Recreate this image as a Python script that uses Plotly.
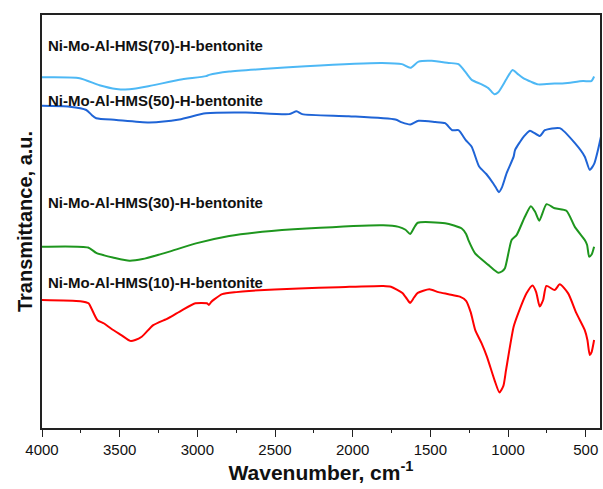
import plotly.graph_objects as go

# FTIR spectra of Ni-Mo-Al-HMS(x)-H-bentonite samples (stacked, transmittance in a.u.)
wn_10 = [4000, 3753, 3700, 3680, 3643, 3600, 3556, 3490, 3432, 3400, 3358, 3284, 3186, 3100,
         3012, 2938, 2926, 2911, 2889, 2840, 2750, 2667, 2346, 2089, 1803, 1754, 1680, 1650,
         1630, 1605, 1581, 1507, 1448, 1383, 1310, 1270, 1240, 1211, 1170, 1136, 1087, 1055,
         1030, 1013, 964, 934, 881, 842, 819, 796, 774, 753, 699, 667, 613, 560, 506, 489,
         474, 462, 446]
t_10 = [31.0, 30.7, 30.2, 28.8, 26.1, 25.3, 24.1, 22.5, 21.1, 21.3, 22.1, 24.9, 26.6, 28.5,
        30.2, 30.2, 29.8, 30.5, 31.2, 32.4, 32.9, 33.2, 33.8, 34.1, 34.4, 34.2, 32.7, 31.2,
        30.3, 31.6, 32.7, 33.6, 32.9, 32.4, 31.8, 30.8, 28.0, 23.7, 20.5, 17.3, 11.6, 8.6,
        10.2, 14.0, 24.5, 27.8, 32.6, 34.5, 32.9, 29.4, 31.0, 34.4, 33.4, 34.8, 32.6, 27.8,
        23.7, 21.3, 17.7, 18.4, 21.3]

wn_30 = [4000, 3703, 3651, 3600, 3544, 3437, 3352, 3235, 3180, 3009, 2795, 2582, 2297, 1803,
         1704, 1660, 1630, 1600, 1581, 1405, 1298, 1270, 1255, 1212, 1127, 1080, 1063, 1040,
         1020, 977, 945, 891, 853, 825, 799, 752, 699, 624, 570, 506, 491, 478, 462, 446]
t_30 = [43.9, 43.7, 42.4, 41.8, 41.3, 40.5, 40.9, 42.1, 42.7, 44.7, 46.5, 47.5, 48.3, 49.1,
        48.7, 48.0, 47.0, 48.8, 49.7, 49.6, 48.3, 47.0, 45.5, 42.3, 39.5, 38.0, 37.6, 37.9,
        38.7, 45.5, 46.7, 51.2, 53.7, 52.3, 50.2, 54.2, 53.2, 52.6, 48.7, 45.5, 44.3, 41.5,
        42.0, 43.9]

wn_50 = [4000, 3822, 3715, 3680, 3651, 3522, 3309, 3116, 2945, 2688, 2410, 2361, 2325, 2025,
         1725, 1683, 1629, 1576, 1469, 1405, 1359, 1319, 1272, 1234, 1186, 1140, 1095, 1075,
         1059, 1040, 1009, 964, 955, 900, 859, 795, 763, 667, 568, 506, 474, 445, 421, 402]
t_50 = [78.0, 77.8, 77.0, 75.8, 75.0, 74.6, 74.0, 74.7, 76.2, 76.4, 76.0, 76.7, 76.0, 75.5,
        74.7, 74.0, 73.5, 74.4, 74.1, 73.8, 72.1, 72.1, 69.7, 68.1, 63.3, 61.5, 59.2, 58.0,
        57.1, 58.2, 61.7, 65.7, 67.3, 70.5, 72.0, 70.7, 72.1, 72.6, 68.9, 65.7, 62.5, 64.0,
        67.3, 70.5]

wn_70 = [4000, 3758, 3630, 3522, 3437, 3309, 3116, 2945, 2924, 2795, 2582, 2303, 1812, 1683,
         1629, 1576, 1491, 1383, 1319, 1270, 1234, 1170, 1127, 1088, 1063, 1010, 971, 940,
         902, 850, 806, 700, 634, 517, 464, 446]
t_70 = [84.9, 84.7, 83.0, 82.1, 82.0, 82.8, 84.3, 85.2, 85.5, 86.3, 86.9, 87.6, 88.4, 88.1,
        87.2, 88.7, 88.9, 88.4, 88.1, 86.0, 84.3, 83.2, 82.3, 80.8, 81.3, 84.5, 86.7, 85.8,
        84.7, 83.8, 83.2, 83.4, 83.5, 84.0, 84.0, 85.1]

labels = ["Ni-Mo-Al-HMS(70)-H-bentonite", "Ni-Mo-Al-HMS(50)-H-bentonite",
          "Ni-Mo-Al-HMS(30)-H-bentonite", "Ni-Mo-Al-HMS(10)-H-bentonite"]
label_y = [92.7, 79.4, 54.5, 35.3]
colors = ["#4db8f5", "#1f64d6", "#1e961e", "#ff0000"]

x_ticks = [4000, 3500, 3000, 2500, 2000, 1500, 1000, 500]
x_minor = [3750, 3250, 2750, 2250, 1750, 1250, 750]

series = [(wn_70, t_70), (wn_50, t_50), (wn_30, t_30), (wn_10, t_10)]

FONT = "Liberation Sans, Arial, sans-serif"

fig = go.Figure()
for (wn, t), name, col in zip(series, labels, colors):
    fig.add_trace(go.Scatter(x=wn, y=t, mode="lines", name=name,
                             line=dict(color=col, width=2, shape="spline", smoothing=0.6),
                             showlegend=False))

# sample labels above each spectrum
for name, y in zip(labels, label_y):
    fig.add_annotation(x=3975, y=y, xref="x", yref="y", text="<b>%s</b>" % name,
                       showarrow=False, xanchor="left", yanchor="middle",
                       font=dict(family=FONT, size=15, color="#111111"))

fig.update_layout(
    width=603, height=489,
    margin=dict(l=42, r=1, t=15, b=61),
    paper_bgcolor="white", plot_bgcolor="white",
    font=dict(family=FONT, color="#111111"),
)
fig.update_xaxes(
    range=[4000, 408], tickvals=x_ticks, ticktext=[str(v) for v in x_ticks],
    ticks="outside", ticklen=7, tickwidth=1, tickcolor="#222222",
    minor=dict(ticks="outside", ticklen=3, tickvals=x_minor, tickcolor="#222222"),
    showline=True, linecolor="#222222", linewidth=1.5, mirror=True,
    showgrid=False, zeroline=False,
    tickfont=dict(family=FONT, size=15, color="#111111"),
    title=dict(text="<b>Wavenumber, cm<sup>-1</sup></b>",
               font=dict(family=FONT, size=21, color="#111111"), standoff=5),
)
fig.update_yaxes(
    range=[0, 100], showticklabels=False, ticks="",
    showline=True, linecolor="#222222", linewidth=1.5, mirror=True,
    showgrid=False, zeroline=False,
    title=dict(text="<b>Transmittance, a.u.</b>",
               font=dict(family=FONT, size=20, color="#111111"), standoff=2),
)

fig.write_html("out.html")
